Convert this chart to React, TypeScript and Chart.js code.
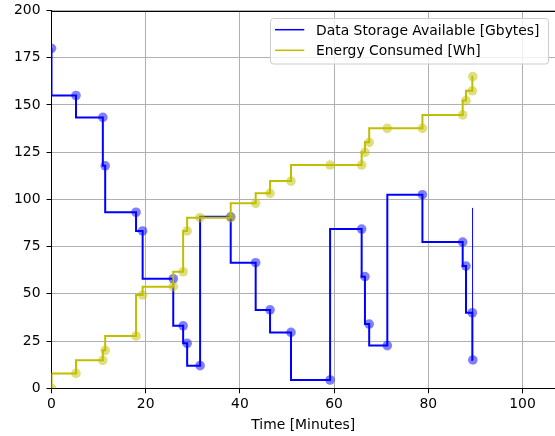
import React, { useEffect, useRef } from 'react';
import { Chart, registerables } from 'chart.js';

Chart.register(...registerables);

const timeMinutes = [0, 5.2, 10.9, 11.4, 17.95, 19.35, 25.85, 27.95, 28.8, 31.55, 38.05, 43.35, 46.4, 50.85, 59.15, 65.85, 66.55, 67.45, 71.3, 78.75, 87.3, 88.0, 89.35, 89.45];
const dataStorage = [180, 155, 143.4, 117.8, 93.2, 83.3, 58, 33.1, 23.8, 12, 90.8, 66.5, 41.5, 29.6, 4.4, 84.3, 59.1, 34, 22.6, 102.5, 77.4, 64.7, 40, 15];
const energyConsumed = [0, 7.9, 14.8, 20.1, 27.7, 49.4, 53.8, 61.7, 83.3, 90.3, 90.3, 97.9, 103.2, 109.7, 118.2, 118.2, 124.9, 130.2, 137.6, 137.6, 144.7, 152.3, 157.5, 165];
const extraLineX = [89.4, 89.4];
const extraLineY = [15, 95.5];
const xTickValues = [0, 20, 40, 60, 80, 100];
const yTickValues = [0, 25, 50, 75, 100, 125, 150, 175, 200];

const seriesLabels = ['Data Storage Available [Gbytes]', 'Energy Consumed [Wh]'];
const xTitle = 'Time [Minutes]';

const BLUE = '#0000ff';
const YELLOW = '#bfbf00';
const FONT = "'DejaVu Sans'";
const FS = 13.9;

const toPoints = (xs: number[], ys: number[]) => xs.map((x, i) => ({ x, y: ys[i] }));

const decorPlugin = {
  id: 'decor',
  afterDraw(chart: any) {
    const ctx = chart.ctx;
    const a = chart.chartArea;
    ctx.save();
    ctx.strokeStyle = '#000';
    ctx.lineWidth = 1;
    ctx.beginPath();
    ctx.moveTo(a.left, Math.round(a.top) + 0.5);
    ctx.lineTo(a.right, Math.round(a.top) + 0.5);
    ctx.stroke();
    ctx.fillStyle = '#000';
    ctx.font = `${FS}px ${FONT}`;
    ctx.textAlign = 'center';
    ctx.textBaseline = 'alphabetic';
    ctx.fillText(xTitle, (a.left + a.right) / 2, 429.3);
    const bx = 270.5, by = 18.5, bw = 278, bh = 45.5;
    ctx.beginPath();
    ctx.roundRect(bx, by, bw, bh, 3);
    ctx.fillStyle = 'rgba(255,255,255,0.8)';
    ctx.fill();
    ctx.strokeStyle = '#cccccc';
    ctx.lineWidth = 1;
    ctx.stroke();
    const rows = [
      { label: seriesLabels[0], color: BLUE, y: 29.7 },
      { label: seriesLabels[1], color: YELLOW, y: 50.3 },
    ];
    rows.forEach((r) => {
      ctx.strokeStyle = r.color;
      ctx.lineWidth = 1.5;
      ctx.beginPath();
      ctx.moveTo(275, r.y);
      ctx.lineTo(304.3, r.y);
      ctx.stroke();
      ctx.fillStyle = '#000';
      ctx.textAlign = 'left';
      ctx.textBaseline = 'alphabetic';
      ctx.fillText(r.label, 316, r.y + 5.1);
    });
    ctx.restore();
  },
};

export default function App() {
  const ref = useRef<HTMLCanvasElement | null>(null);
  useEffect(() => {
    if (!ref.current) return;
    const chart = new Chart(ref.current, {
      type: 'line',
      data: {
        datasets: [
          {
            label: seriesLabels[0],
            data: toPoints(timeMinutes, dataStorage),
            borderColor: BLUE,
            borderWidth: 2,
            stepped: 'after',
            pointRadius: 4.8,
            pointBorderWidth: 0,
            pointBackgroundColor: 'rgba(0,0,255,0.5)',
            fill: false,
            order: 2,
          },
          {
            label: seriesLabels[1],
            data: toPoints(timeMinutes, energyConsumed),
            borderColor: YELLOW,
            borderWidth: 2,
            stepped: 'after',
            pointRadius: 4.8,
            pointBorderWidth: 0,
            pointBackgroundColor: 'rgba(191,191,0,0.5)',
            fill: false,
            order: 1,
          },
          {
            label: '_extra',
            data: toPoints(extraLineX, extraLineY),
            borderColor: BLUE,
            borderWidth: 1,
            pointRadius: 0,
            fill: false,
            order: 3,
          },
        ],
      },
      options: {
        animation: false,
        responsive: false,
        devicePixelRatio: 1,
        layout: { autoPadding: false, padding: { top: 10.5, left: 0, right: 0, bottom: 0 } },
        plugins: { legend: { display: false }, tooltip: { enabled: false } },
        scales: {
          x: {
            type: 'linear',
            min: 0,
            max: 106.9,
            afterFit: (s: any) => { s.height = 47.7; s.paddingLeft = 0; s.paddingRight = 0; },
            afterBuildTicks: (s: any) => {
              s.ticks = xTickValues.map((v) => ({ value: v }));
            },
            ticks: {
              color: '#000',
              font: { family: 'DejaVu Sans', size: FS },
              padding: 3,
              maxRotation: 0,
              autoSkip: false,
            },
            grid: { color: '#b0b0b0', lineWidth: 1, drawTicks: true, tickLength: 5, tickColor: '#000', tickWidth: 1 },
            border: { color: '#000', width: 1 },
          },
          y: {
            type: 'linear',
            min: 0,
            max: 200,
            afterFit: (s: any) => { s.width = 51.5; s.paddingTop = 0; s.paddingBottom = 0; },
            afterBuildTicks: (s: any) => {
              s.ticks = yTickValues.map((v) => ({ value: v }));
            },
            ticks: {
              color: '#000',
              font: { family: 'DejaVu Sans', size: FS },
              padding: 6,
            },
            grid: { color: '#b0b0b0', lineWidth: 1, drawTicks: true, tickLength: 5, tickColor: '#000', tickWidth: 1 },
            border: { color: '#000', width: 1 },
          },
        },
      },
      plugins: [decorPlugin],
    } as any);
    return () => chart.destroy();
  }, []);
  return (
    <div style={{ position: 'fixed', left: 0, top: 0, width: 555, height: 436, background: '#fff' }}>
      <canvas ref={ref} width={555} height={436} style={{ display: 'block', width: 555, height: 436 }} />
    </div>
  );
}
